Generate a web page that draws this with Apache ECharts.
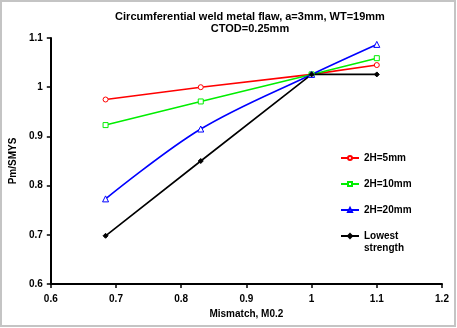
<!DOCTYPE html>
<html>
<head>
<meta charset="utf-8">
<script src="https://cdn.jsdelivr.net/npm/echarts@6/dist/echarts.min.js"></script>
<style>
  html, body { margin: 0; padding: 0; background: #fff; }
  #chart { width: 457px; height: 328px; }
</style>
</head>
<body>
<div id="chart"></div>
<script>
// Mismatch values (x) and normalised failure pressure Pm/SMYS (y)
const mismatch = [0.684, 0.83, 1.0, 1.1];
const h5 = [0.975, 1.0, 1.026, 1.045];
const h10 = [0.923, 0.971, 1.026, 1.059];
const h20 = [0.773, 0.915, 1.026, 1.087];
const lowest = [0.698, 0.85, 1.026, 1.026];
const seriesNames = ['2H=5mm', '2H=10mm', '2H=20mm', 'Lowest\nstrength'];

const font = 'Arial, "Liberation Sans", sans-serif';
const pairs = ys => mismatch.map((x, i) => [x, ys[i]]);

function lineSeries(name, ys, color, symbol, size, filled, smooth) {
  return {
    name: name,
    type: 'line',
    data: pairs(ys),
    smooth: smooth ? 0.35 : false,
    symbol: symbol,
    symbolSize: size,
    showSymbol: true,
    lineStyle: { color: color, width: 1.6 },
    itemStyle: { color: filled ? color : '#fff', borderColor: color, borderWidth: 1 },
    emphasis: { disabled: true },
    animation: false
  };
}

const legendText = { fontFamily: font, fontSize: 10, fontWeight: 'bold', color: '#000', lineHeight: 12 };

const chart = echarts.init(document.getElementById('chart'));
chart.setOption({
  animation: false,
  title: {
    text: 'Circumferential weld metal flaw, a=3mm, WT=19mm\nCTOD=0.25mm',
    left: 250, top: 11, padding: 0, textAlign: 'center',
    textStyle: { fontFamily: font, fontSize: 11, fontWeight: 'bold', color: '#000', lineHeight: 12 }
  },
  graphic: [{
    type: 'rect', shape: { x: 1, y: 1, width: 454, height: 325 },
    style: { fill: 'none', stroke: '#c4c4c4', lineWidth: 2 }, silent: true
  }],
  grid: { left: 49.7, right: 15, top: 38, bottom: 44 },
  legend: [{
    orient: 'vertical', left: 340, top: 152, padding: 0,
    itemWidth: 18, itemHeight: 5, itemGap: 14,
    data: seriesNames.slice(0, 3),
    textStyle: legendText
  }, {
    // two-line entry: a blank leading line keeps "Lowest" level with the icon
    orient: 'vertical', left: 340, top: 218, padding: 0,
    itemWidth: 18, itemHeight: 5,
    data: seriesNames.slice(3),
    formatter: name => ' \n' + name,
    textStyle: legendText
  }],
  xAxis: {
    type: 'value', min: 0.6, max: 1.2, interval: 0.1,
    name: 'Mismatch, M0.2', nameLocation: 'middle', nameGap: 24,
    nameTextStyle: { fontFamily: font, fontSize: 10, fontWeight: 'bold', color: '#000' },
    axisLine: { show: true, lineStyle: { color: '#000', width: 2 } },
    axisTick: { show: true, length: 4, lineStyle: { color: '#000', width: 1.5 } },
    axisLabel: { fontFamily: font, fontSize: 10, fontWeight: 'bold', color: '#000', margin: 10,
      formatter: v => String(Math.round(v * 10) / 10) },
    splitLine: { show: false }
  },
  yAxis: {
    type: 'value', min: 0.6, max: 1.1, interval: 0.1,
    name: 'Pm/SMYS', nameLocation: 'middle', nameGap: 25,
    nameTextStyle: { fontFamily: font, fontSize: 10, fontWeight: 'bold', color: '#000' },
    axisLine: { show: true, lineStyle: { color: '#000', width: 2 } },
    axisTick: { show: true, length: 4, lineStyle: { color: '#000', width: 1.5 } },
    axisLabel: { fontFamily: font, fontSize: 10, fontWeight: 'bold', color: '#000', margin: 8,
      formatter: v => String(Math.round(v * 10) / 10) },
    splitLine: { show: false }
  },
  series: [
    lineSeries(seriesNames[0], h5, '#ff0000', 'circle', 5, false, false),
    lineSeries(seriesNames[1], h10, '#00ee00', 'rect', 5, false, false),
    lineSeries(seriesNames[2], h20, '#0000ff', 'triangle', 6, false, true),
    lineSeries(seriesNames[3], lowest, '#000000', 'diamond', 5, true, false)
  ]
});
</script>
</body>
</html>
